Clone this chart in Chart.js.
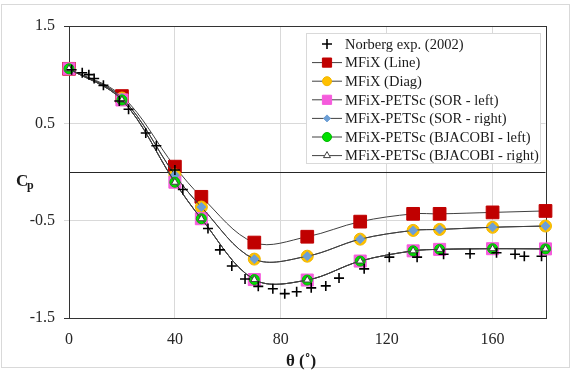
<!DOCTYPE html>
<html>
<head>
<meta charset="utf-8">
<style>
  html, body { margin: 0; padding: 0; background: #fff; }
  #wrap { width: 574px; height: 371px; }
</style>
</head>
<body>
<div id="wrap"><canvas id="cpChart" width="574" height="371"></canvas></div>

<script src="https://cdn.jsdelivr.net/npm/chart.js@4"></script>
<script>
  // Norberg exp. (2002) points
  var expAngle = [1, 5, 7.5, 9.5, 13, 19, 22.5, 29, 33, 40, 43, 52.5, 57, 61.5, 66.5, 71.5, 77, 81.5, 86, 91.5, 97, 102, 111.5, 121, 131.5, 141.5, 151.5, 161.5, 168.5, 172, 178.5];
  var expCp = [1.05, 1.02, 1.0, 0.96, 0.89, 0.73, 0.645, 0.40, 0.27, 0.02, -0.18, -0.58, -0.80, -0.965, -1.10, -1.175, -1.20, -1.25, -1.23, -1.19, -1.17, -1.09, -0.995, -0.875, -0.875, -0.845, -0.84, -0.83, -0.845, -0.865, -0.865];

  // simulation angles and Cp
  var simAngle = [0, 20, 40, 50, 70, 90, 110, 130, 140, 160, 180];
  var cpLine = [1.06, 0.78, 0.055, -0.255, -0.725, -0.665, -0.51, -0.43, -0.43, -0.415, -0.40];
  var cpDiag = [1.06, 0.76, -0.03, -0.36, -0.895, -0.865, -0.69, -0.60, -0.59, -0.568, -0.555];
  var cpSorLeft = [1.06, 0.74, -0.105, -0.48, -1.105, -1.11, -0.915, -0.81, -0.795, -0.788, -0.79];
  var cpSorRight = [1.06, 0.76, -0.03, -0.36, -0.895, -0.865, -0.69, -0.60, -0.59, -0.568, -0.555];
  var cpBjLeft = [1.06, 0.74, -0.105, -0.48, -1.105, -1.11, -0.915, -0.81, -0.795, -0.788, -0.79];
  var cpBjRight = [1.06, 0.74, -0.105, -0.48, -1.105, -1.11, -0.915, -0.81, -0.795, -0.788, -0.79];

  var seriesNames = ["Norberg exp. (2002)", "MFiX (Line)", "MFiX (Diag)", "MFiX-PETSc (SOR - left)", "MFiX-PETSc (SOR - right)", "MFiX-PETSc (BJACOBI - left)", "MFiX-PETSc (BJACOBI - right)"];
  var xTicks = [0, 40, 80, 120, 160];
  var yTicks = [-1.5, -0.5, 0.5, 1.5];

  function pts(xs, ys) {
    return xs.map(function (x, i) { return { x: x, y: ys[i] }; });
  }

  var serif = "'Liberation Serif', 'DejaVu Serif', serif";
  var lineCol = '#404040';

  function simSeries(i, ys, style, r, lr, fill, edge, ord) {
    return {
      label: seriesNames[i],
      data: pts(simAngle, ys),
      borderColor: lineCol,
      borderWidth: 1,
      tension: 0.35,
      fill: false,
      pointStyle: style,
      pointRadius: r,
      pointHoverRadius: r,
      pointBackgroundColor: fill,
      pointBorderColor: edge,
      pointBorderWidth: 1,
      legendRadius: lr,
      clip: false,
      order: ord
    };
  }

  var datasets = [
    {
      label: seriesNames[0],
      data: pts(expAngle, expCp),
      showLine: false,
      pointStyle: 'cross',
      pointRadius: 5,
      pointHoverRadius: 5,
      pointBorderColor: '#000',
      pointBackgroundColor: '#000',
      pointBorderWidth: 1.6,
      legendRadius: 5,
      clip: false,
      order: 0
    },
    simSeries(1, cpLine, 'rect', 9, 6.5, '#C00000', '#C00000', 6),
    simSeries(2, cpDiag, 'circle', 6, 4.5, '#FFC000', '#F2B800', 5),
    simSeries(3, cpSorLeft, 'rect', 8.5, 6.5, '#F55BDC', '#F55BDC', 4),
    simSeries(4, cpSorRight, 'rectRot', 4.5, 3.5, '#6D9FD6', '#6D9FD6', 3),
    simSeries(5, cpBjLeft, 'circle', 5, 4.5, '#00E000', '#00B800', 2),
    simSeries(6, cpBjRight, 'triangle', 4, 4, '#ffffff', lineCol, 1)
  ];

  // white page + light frame around the whole chart
  var pageFrame = {
    id: 'pageFrame',
    beforeDraw: function (chart) {
      var ctx = chart.ctx;
      ctx.save();
      ctx.fillStyle = '#fff';
      ctx.fillRect(0, 0, chart.width, chart.height);
      ctx.strokeStyle = '#d9d9d9';
      ctx.lineWidth = 1;
      ctx.strokeRect(1.5, 4.5, 568, 363);
      ctx.restore();
    }
  };

  // plot border and the zero line
  var plotFrame = {
    id: 'plotFrame',
    beforeDatasetsDraw: function (chart) {
      var a = chart.chartArea, ctx = chart.ctx;
      var y0 = Math.round(chart.scales.y.getPixelForValue(0)) + 0.5;
      ctx.save();
      ctx.lineWidth = 1;
      ctx.strokeStyle = '#262626';
      ctx.beginPath();
      ctx.moveTo(a.left, y0);
      ctx.lineTo(a.right, y0);
      ctx.stroke();
      ctx.strokeStyle = '#333';
      ctx.strokeRect(Math.round(a.left) + 0.5, Math.round(a.top) + 0.5,
        Math.round(a.right) - Math.round(a.left), Math.round(a.bottom) - Math.round(a.top));
      ctx.restore();
    }
  };

  // Excel-like legend box: line through marker, then the name
  var boxLegend = {
    id: 'boxLegend',
    afterDraw: function (chart) {
      var ctx = chart.ctx;
      var bx = 306.5, by = 33.5, bw = 234, bh = 130;
      ctx.save();
      ctx.fillStyle = '#fff';
      ctx.fillRect(bx, by, bw, bh);
      ctx.strokeStyle = '#d9d9d9';
      ctx.lineWidth = 1;
      ctx.strokeRect(bx, by, bw, bh);
      chart.data.datasets.forEach(function (ds, i) {
        var cy = 44 + i * 18.6;
        if (ds.showLine !== false) {
          ctx.strokeStyle = ds.borderColor;
          ctx.lineWidth = 1;
          ctx.beginPath();
          ctx.moveTo(312, cy);
          ctx.lineTo(342, cy);
          ctx.stroke();
        }
        ctx.fillStyle = ds.pointBackgroundColor;
        ctx.strokeStyle = ds.pointBorderColor;
        ctx.lineWidth = ds.pointBorderWidth;
        Chart.helpers.drawPoint(ctx, {
          pointStyle: ds.pointStyle,
          radius: ds.legendRadius,
          rotation: 0,
          borderWidth: ds.pointBorderWidth
        }, 327, cy);
        ctx.fillStyle = '#1a1a1a';
        ctx.font = '14.5px ' + serif;
        ctx.textBaseline = 'middle';
        ctx.textAlign = 'left';
        ctx.fillText(ds.label, 345, cy + 1);
      });
      ctx.restore();
    }
  };

  // axis titles: horizontal "Cp" with subscript, and the angle title
  var axisTitles = {
    id: 'axisTitles',
    afterDraw: function (chart) {
      var ctx = chart.ctx;
      ctx.save();
      ctx.fillStyle = '#1a1a1a';
      ctx.textBaseline = 'alphabetic';
      ctx.textAlign = 'left';
      ctx.font = 'bold 17px ' + serif;
      ctx.fillText('C', 16, 186);
      ctx.font = 'bold 12px ' + serif;
      ctx.fillText('p', 27, 189);
      ctx.textAlign = 'center';
      ctx.font = 'bold 17px ' + serif;
      ctx.fillText('θ (˚)', 301, 366);
      ctx.restore();
    }
  };

  new Chart(document.getElementById('cpChart'), {
    type: 'line',
    data: { datasets: datasets },
    plugins: [pageFrame, plotFrame, boxLegend, axisTitles],
    options: {
      responsive: false,
      animation: false,
      events: [],
      layout: { autoPadding: false, padding: { left: 0, top: 26, right: 28.5, bottom: 0 } },
      plugins: { legend: { display: false }, tooltip: { enabled: false } },
      scales: {
        x: {
          type: 'linear',
          min: 0,
          max: 180,
          afterBuildTicks: function (s) { s.ticks = xTicks.map(function (v) { return { value: v }; }); },
          afterFit: function (s) { s.height = 53; },
          grid: { color: '#d9d9d9', drawTicks: false },
          border: { display: false },
          ticks: { color: '#262626', font: { family: serif, size: 16 }, padding: 12, maxRotation: 0 }
        },
        y: {
          type: 'linear',
          min: -1.5,
          max: 1.5,
          afterBuildTicks: function (s) { s.ticks = yTicks.map(function (v) { return { value: v }; }); },
          afterFit: function (s) { s.width = 69; },
          grid: {
            color: '#d9d9d9',
            tickLength: 5,
            tickColor: function (c) { return Math.abs(c.tick.value) === 1.5 ? '#333' : '#d9d9d9'; }
          },
          border: { display: false },
          ticks: {
            color: '#262626',
            font: { family: serif, size: 16 },
            padding: 9,
            callback: function (v) { return String(v); }
          }
        }
      }
    }
  });
</script>
</body>
</html>
